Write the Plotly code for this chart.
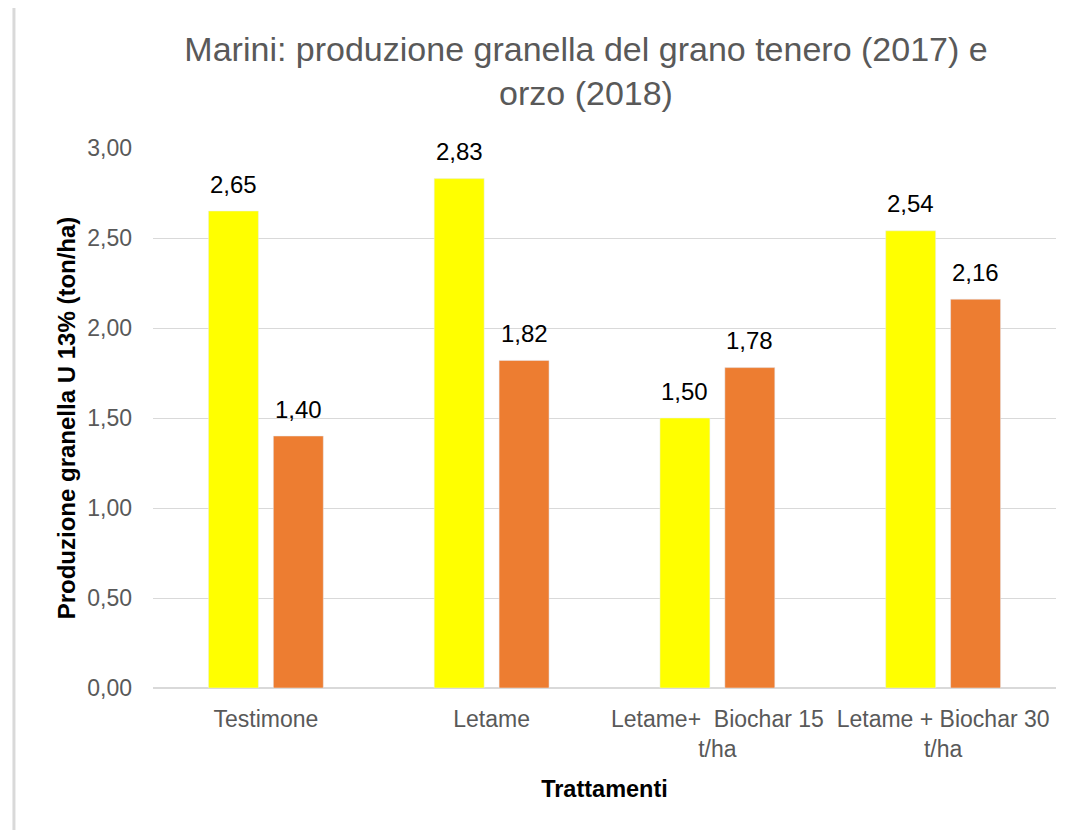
import plotly.graph_objects as go

# Dati
trattamenti = ["Testimone", "Letame", "Letame+&nbsp; Biochar 15<br>t/ha", "Letame + Biochar 30<br>t/ha"]
grano_2017 = [2.65, 2.83, 1.50, 2.54]
orzo_2018 = [1.40, 1.82, 1.78, 2.16]
tick_vals = [0, 0.5, 1, 1.5, 2, 2.5, 3]

font_nome = "Liberation Sans, Arial, sans-serif"
bargap = 0.425
plot_w = 903  # larghezza area del grafico in px

fig = go.Figure()
fig.add_trace(go.Bar(x=trattamenti, y=grano_2017, name="Grano tenero (2017)",
                     marker_color="#FFFF00"))
fig.add_trace(go.Bar(x=trattamenti, y=orzo_2018, name="Orzo (2018)",
                     marker_color="#ED7D31"))

# etichette dei valori sopra le barre
slot = (1 - bargap) * plot_w / len(trattamenti) / 2
etichette = []
for serie, dx in ((grano_2017, -slot / 2), (orzo_2018, slot / 2)):
    for cat, val in zip(trattamenti, serie):
        etichette.append(dict(x=cat, y=val, xref="x", yref="y", text=f"{val:.2f}".replace(".", ","),
                              showarrow=False, xshift=dx, yshift=27, yanchor="middle",
                              font=dict(size=24, color="#000000", family=font_nome)))

# bordo sinistro grigio
bordo = [
    dict(type="line", xref="paper", yref="paper", x0=-0.154, x1=-0.154, y0=-0.27, y1=1.26,
         line=dict(color="#D9D9D9", width=3)),
]

fig.update_layout(
    width=1069, height=822,
    paper_bgcolor="white", plot_bgcolor="white",
    separators=",.",
    showlegend=False,
    barmode="group", bargap=bargap, bargroupgap=0.23,
    margin=dict(l=145, r=21, t=140, b=142),
    font=dict(family=font_nome, color="#595959"),
    title=dict(text="Marini: produzione granella del grano tenero (2017) e<br>orzo (2018)",
               x=0.5407, xanchor="center", y=0.9355, yanchor="top",
               font=dict(size=34, color="#595959", family=font_nome)),
    xaxis=dict(tickfont=dict(size=23, color="#595959"),
               title=dict(text="<b>Trattamenti</b>", font=dict(size=23.5, color="#000000"), standoff=19),
               showline=False, ticks="", ticklabelstandoff=15),
    yaxis=dict(range=[0, 3], tickvals=tick_vals, tickformat=".2f",
               tickfont=dict(size=23, color="#595959"),
               gridcolor="#D9D9D9", gridwidth=1, zeroline=True, zerolinecolor="#D9D9D9",
               ticks="", ticklabelstandoff=20,
               title=dict(text="<b>Produzione granella U 13% (ton/ha)</b>",
                          font=dict(size=24, color="#000000"), standoff=4)),
    annotations=etichette,
    shapes=bordo,
)

fig.write_html("out.html")
